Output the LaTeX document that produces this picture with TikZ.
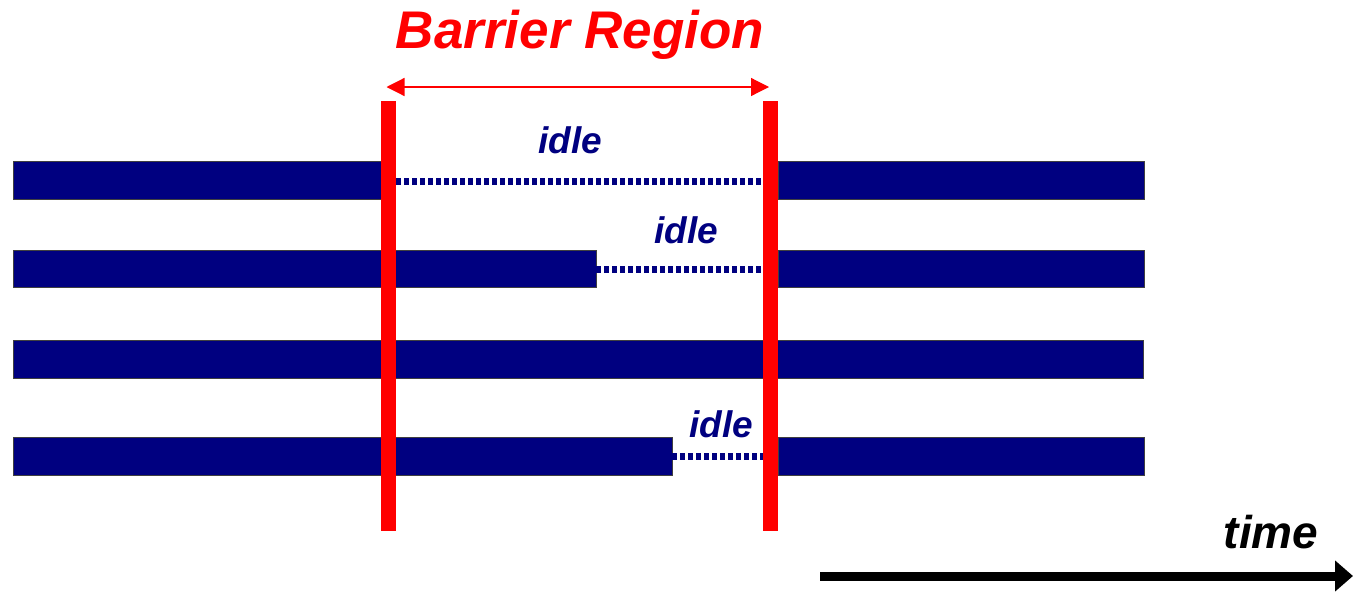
\documentclass[tikz,border=0pt]{standalone}
\usepackage{fontspec}
\setmainfont{Liberation Sans}
\usetikzlibrary{arrows.meta}
\definecolor{navy}{HTML}{000080}
\tikzset{
  bar/.style={fill=navy, draw=black!75, line width=1pt},
  barrier/.style={fill=red, draw=none},
  idleline/.style={navy, line width=7pt, dash pattern=on 5pt off 3pt},
  idlelab/.style={text=navy, font=\fontsize{37}{40}\selectfont\bfseries\itshape, anchor=base, inner sep=0pt},
}
\begin{document}
\begin{tikzpicture}[x=1pt,y=-1pt]
\useasboundingbox (0,0) rectangle (1353,592);
% bars
\draw[bar] (13,161) rectangle (388,199);
\draw[bar] (778,161) rectangle (1144,199);
\draw[bar] (13,250) rectangle (596,287);
\draw[bar] (778,250) rectangle (1144,287);
\draw[bar] (13,340) rectangle (1143,378);
\draw[bar] (13,437) rectangle (672,475);
\draw[bar] (778,437) rectangle (1144,475);
% idle coordinates
\coordinate (i1s) at (396,181);
\coordinate (i1e) at (763,181);
\coordinate (i2s) at (596,269);
\coordinate (i2e) at (763,269);
\coordinate (i4s) at (672,456);
\coordinate (i4e) at (763,456);
\draw[idleline] (i1s) -- (i1e);
\draw[idleline] (i2s) -- (i2e);
\draw[idleline] (i4s) -- (i4e);
% barriers
\fill[barrier] (381,101) rectangle (396,531);
\fill[barrier] (763,101) rectangle (778,531);
% barrier region arrow
\coordinate (bl) at (386.5,87);
\coordinate (br) at (769,87);
\draw[red, line width=1.2pt, {Triangle[length=18pt,width=18pt]}-{Triangle[length=18pt,width=18pt]}] (bl) -- (br);
\node[text=red, font=\fontsize{53}{60}\selectfont\bfseries\itshape, anchor=base, inner sep=0pt] (br-lab) at (580,48) {Barrier Region};
% idle labels
\node[idlelab] (l1) at (570,153) {idle};
\node[idlelab] (l2) at (686,243) {idle};
\node[idlelab] (l4) at (721,437) {idle};
% time
\coordinate (t0) at (820,576);
\coordinate (t1) at (1353,576);
\draw[line width=9pt, -{Triangle[length=18pt,width=30pt]}] (t0) -- (t1);
\node[font=\fontsize{46}{50}\selectfont\bfseries\itshape, anchor=base, inner sep=0pt] (tl) at (1271,548) {time};
\end{tikzpicture}
\end{document}
